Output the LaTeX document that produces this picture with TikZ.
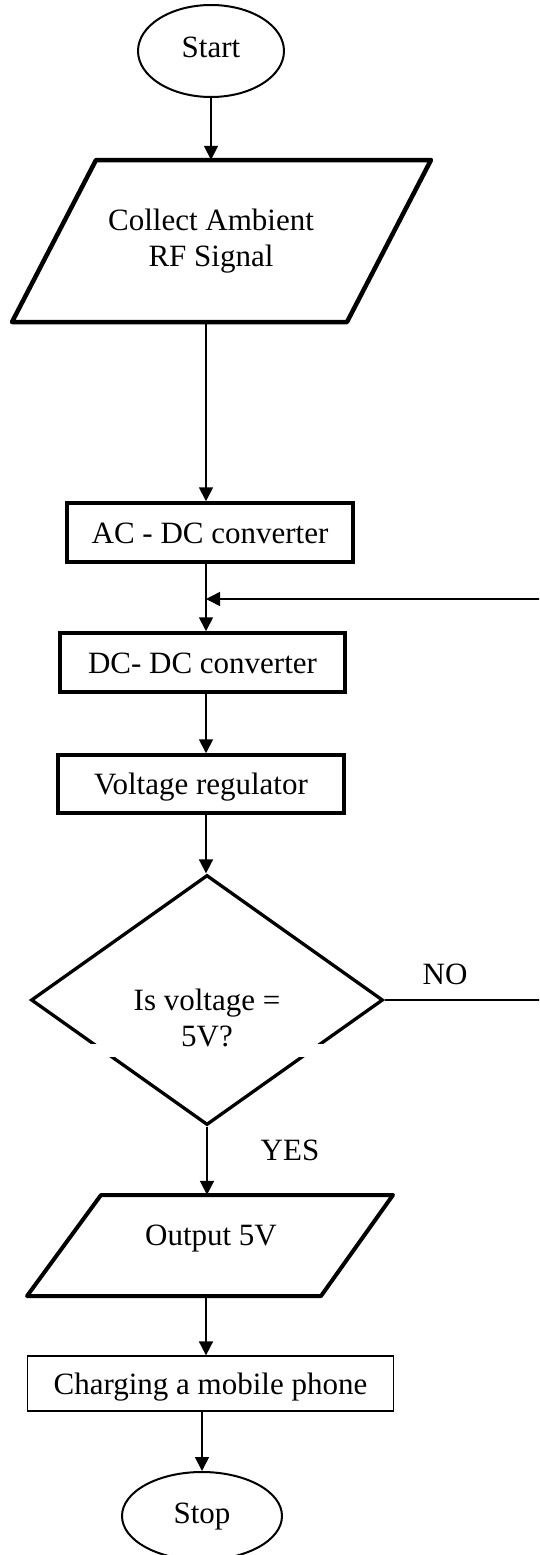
\documentclass[tikz,border=0pt]{standalone}
\usepackage{fontspec}
\setmainfont{Liberation Serif}
\usetikzlibrary{shapes.geometric,arrows.meta}
\begin{document}
\begin{tikzpicture}[x=1pt,y=-1pt,
  every node/.style={font=\fontsize{31}{36}\selectfont, inner sep=0pt},
  term/.style={ellipse, draw, line width=2pt, text height=14pt, text depth=0pt},
  procbox/.style={rectangle, draw, line width=3.5pt, text height=21pt, text depth=0pt},
  thinbox/.style={rectangle, draw, line width=1.3pt, text height=21pt, text depth=0pt},
  para/.style={draw, line width=4.5pt, line join=round},
  lbl/.style={anchor=base},
  arr/.style={line width=1.8pt, -{Triangle[length=14pt,width=14pt]}},
  fb/.style={line width=1.5pt}]
\useasboundingbox (0,0) rectangle (539,1555);
\clip (0,0) rectangle (539,1555);

\coordinate (spine) at (206,0);
\coordinate (farR) at (560,0);
\coordinate (jn) at (206,599);

% Start
\node[term, minimum width=146pt, minimum height=92pt] (start) at (211,51) {Start};

% Collect parallelogram
\draw[para] (96,160) -- (431,160) -- (347,322) -- (12,322) -- cycle;
\node[align=center, minimum height=162pt] (collect) at (211,241) {Collect Ambient\\RF Signal};

% Process boxes
\node[procbox, minimum width=286pt, minimum height=59pt] (ac) at (210,532.5) {AC - DC converter};
\node[procbox, minimum width=285pt, minimum height=59pt] (dc) at (202.5,662.5) {DC- DC converter};
\node[procbox, minimum width=286pt, minimum height=58pt] (vr) at (201,784) {Voltage regulator};

% Decision
\node[diamond, draw, line width=3.3pt, minimum width=352pt, minimum height=250pt, aspect=1.408] (dec) at (207,1000) {};
\fill[white] (80,1044) rectangle (335,1057);
\node[align=center] (declbl) at (207,1018) {Is voltage =\\5V?};

\node[lbl] (nolbl) at (445,984) {NO};
\node[lbl] (yeslbl) at (290,1160) {YES};

% Output parallelogram
\draw[para, line width=4pt] (101,1195) -- (393,1195) -- (321,1296) -- (27,1296) -- cycle;
\node[minimum height=101pt, text height=10pt, text depth=10pt] (out) at (211,1245.5) {Output 5V};

\node[thinbox, minimum width=366pt, minimum height=55pt] (chg) at (210.5,1383.5) {Charging a mobile phone};
\node[term, minimum width=160pt, minimum height=88pt] (stop) at (202,1516) {Stop};

% Connectors
\draw[arr] (start.south) -- (start.south |- collect.north);
\draw[arr] (collect.south -| spine) -- (ac.north -| spine);
\draw[arr] (ac.south -| spine) -- (dc.north -| spine);
\draw[arr] (dc.south -| spine) -- (vr.north -| spine);
\draw[arr] (vr.south -| spine) -- (dec.north -| spine);
\draw[fb, -{Triangle[length=14pt,width=14pt]}] (dec.east) -- (dec.east -| farR) |- (jn);
\draw[arr] (dec.south) -- (dec.south |- out.north);
\draw[arr] (out.south -| spine) -- (chg.north -| spine);
\draw[arr] (chg.south -| stop.north) -- (stop.north);
\end{tikzpicture}
\end{document}
